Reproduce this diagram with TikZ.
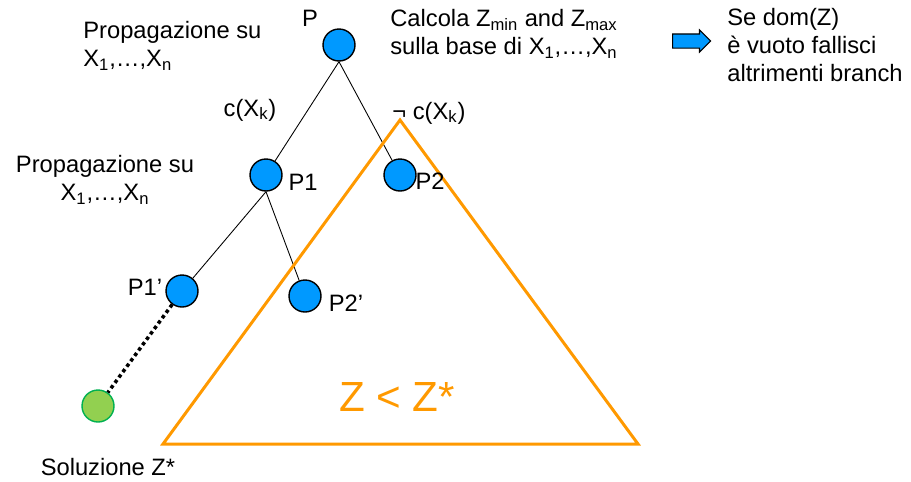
\documentclass[tikz,border=0pt]{standalone}
\usepackage{fontspec}
\setmainfont{Liberation Sans}
\usetikzlibrary{shapes.arrows}
\definecolor{nblue}{HTML}{0099FF}
\definecolor{ngreen}{HTML}{92D050}
\definecolor{ngreend}{HTML}{00B050}
\definecolor{norange}{HTML}{FF9900}
\newcommand{\xlist}{X\textsubscript{1},\ldots,X\textsubscript{n}}
\tikzset{
  % search tree nodes
  nd/.style    = {circle, draw=black, fill=nblue, line width=0.8pt,
                  minimum size=0.64cm, inner sep=0pt},
  sol/.style   = {nd, draw=ngreend, fill=ngreen},
  tag/.style   = {font=\fontsize{13.5}{16}\selectfont, inner sep=0pt},
  edge/.style  = {line width=0.5pt},
  tri/.style   = {draw=norange, line width=1.7pt, line join=miter},
  blkarr/.style = {single arrow, draw=black, fill=nblue, line width=0.6pt,
                  minimum height=0.76cm, inner xsep=0pt, inner ysep=0.13cm,
                  single arrow head extend=0.08cm},
}

\begin{document}
\begin{tikzpicture}[x=0.02cm,y=-0.02cm]
\useasboundingbox (0,0) rectangle (911,481);
% nodes of the tree
\node[nd] (P)   at (339,45)  {};
\node[nd] (P1)  at (266,175) {};
\node[nd] (P2)  at (400,175) {};
\node[nd] (P1p) at (182,291) {};
\node[nd] (P2p) at (305,296) {};
\node[sol] (S)  at (98,406)  {};
% branches
\draw[edge] (P.south) -- (P1);
\draw[edge] (P.south) -- (P2);
\draw[edge] (P1.south) -- (P1p);
\draw[edge] (P1.south) -- (P2p);
\draw[line width=2pt, dash pattern=on 2pt off 1.8pt] (P1p) -- (S);
% pruned subtree
\coordinate (top) at (400,120);
\coordinate (bl)  at (163,444);
\coordinate (br)  at (638,444);
\draw[tri] (top) -- (bl) -- (br) -- cycle;
\node[tag, text=norange, font=\fontsize{24}{28}\selectfont] (zz) at (397,397) {Z < Z*};
% labels
\node[tag] (lP)   at (310,18)  {P};
\node[tag] (lP1)  at (303,182) {P1};
\node[tag] (lP2)  at (430,181) {P2};
\node[tag] (lP1p) at (145,287) {P1’};
\node[tag] (lP2p) at (346,303) {P2’};
\node[tag] (lc)   at (250,110) {c(X\textsubscript{k})};
\node[tag, anchor=west] (lnc) at (392,113) {¬ c(X\textsubscript{k})};
\node[tag] (lS)   at (108,467) {Soluzione Z*};
\node[tag, align=left, anchor=west] (prop1) at (83,46)
  {Propagazione su\\\xlist};
\node[tag, align=center] (prop2) at (105,180)
  {Propagazione su\\\xlist};
\node[tag, align=left, anchor=west] (calc) at (390,34)
  {Calcola Z\textsubscript{min} and Z\textsubscript{max}\\sulla base di \xlist};
\node[blkarr] (arr) at (688,41) {};
\node[tag, align=left, anchor=west] (se) at (727,45)
  {Se dom(Z)\\è vuoto fallisci\\altrimenti branch};
\end{tikzpicture}
\end{document}
